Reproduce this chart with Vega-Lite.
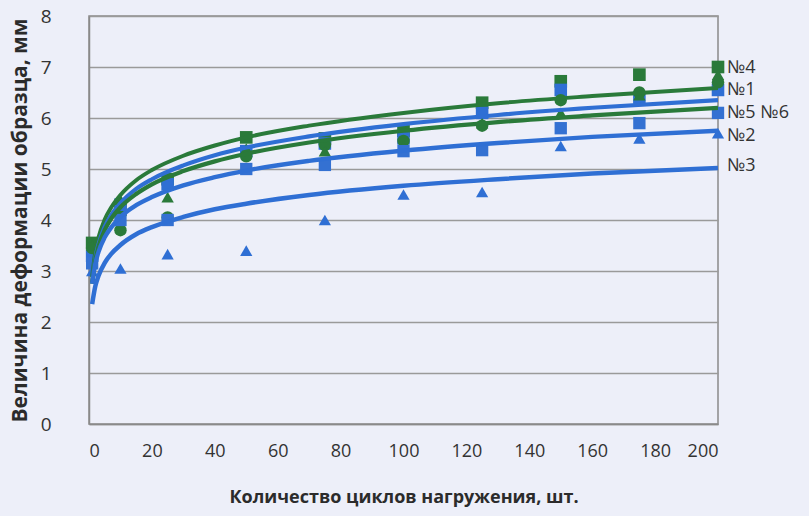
{
  "$schema": "https://vega.github.io/schema/vega-lite/v6.json",
  "width": 629,
  "height": 408,
  "autosize": {"type": "none"},
  "padding": {"left": 89, "top": 16, "right": 91, "bottom": 92},
  "background": "#edeff9",
  "config": {
    "view": {"stroke": "#8a8a8a", "strokeWidth": 1.5},
    "font": "Open Sans"
  },
  "datasets": {
    "curves": [
      {"c": "A", "x": 1, "y": 2.88}, {"c": "A", "x": 2, "y": 3.37}, {"c": "A", "x": 3, "y": 3.65}, {"c": "A", "x": 5, "y": 4.01}, {"c": "A", "x": 7, "y": 4.24}, {"c": "A", "x": 10, "y": 4.49}, {"c": "A", "x": 15, "y": 4.78}, {"c": "A", "x": 20, "y": 4.98}, {"c": "A", "x": 30, "y": 5.26}, {"c": "A", "x": 40, "y": 5.46}, {"c": "A", "x": 50, "y": 5.62}, {"c": "A", "x": 70, "y": 5.85}, {"c": "A", "x": 100, "y": 6.10}, {"c": "A", "x": 130, "y": 6.29}, {"c": "A", "x": 160, "y": 6.43}, {"c": "A", "x": 200, "y": 6.59},
      {"c": "B", "x": 1, "y": 2.78}, {"c": "B", "x": 2, "y": 3.25}, {"c": "B", "x": 3, "y": 3.52}, {"c": "B", "x": 5, "y": 3.87}, {"c": "B", "x": 7, "y": 4.09}, {"c": "B", "x": 10, "y": 4.33}, {"c": "B", "x": 15, "y": 4.61}, {"c": "B", "x": 20, "y": 4.80}, {"c": "B", "x": 30, "y": 5.07}, {"c": "B", "x": 40, "y": 5.27}, {"c": "B", "x": 50, "y": 5.42}, {"c": "B", "x": 70, "y": 5.64}, {"c": "B", "x": 100, "y": 5.88}, {"c": "B", "x": 130, "y": 6.06}, {"c": "B", "x": 160, "y": 6.20}, {"c": "B", "x": 200, "y": 6.35},
      {"c": "C", "x": 1, "y": 2.75}, {"c": "C", "x": 2, "y": 3.20}, {"c": "C", "x": 3, "y": 3.47}, {"c": "C", "x": 5, "y": 3.80}, {"c": "C", "x": 7, "y": 4.02}, {"c": "C", "x": 10, "y": 4.25}, {"c": "C", "x": 15, "y": 4.51}, {"c": "C", "x": 20, "y": 4.70}, {"c": "C", "x": 30, "y": 4.96}, {"c": "C", "x": 40, "y": 5.15}, {"c": "C", "x": 50, "y": 5.30}, {"c": "C", "x": 70, "y": 5.52}, {"c": "C", "x": 100, "y": 5.75}, {"c": "C", "x": 130, "y": 5.92}, {"c": "C", "x": 160, "y": 6.05}, {"c": "C", "x": 200, "y": 6.20},
      {"c": "D", "x": 1, "y": 2.75}, {"c": "D", "x": 2, "y": 3.14}, {"c": "D", "x": 3, "y": 3.37}, {"c": "D", "x": 5, "y": 3.66}, {"c": "D", "x": 7, "y": 3.85}, {"c": "D", "x": 10, "y": 4.06}, {"c": "D", "x": 15, "y": 4.29}, {"c": "D", "x": 20, "y": 4.45}, {"c": "D", "x": 30, "y": 4.68}, {"c": "D", "x": 40, "y": 4.84}, {"c": "D", "x": 50, "y": 4.97}, {"c": "D", "x": 70, "y": 5.16}, {"c": "D", "x": 100, "y": 5.36}, {"c": "D", "x": 130, "y": 5.51}, {"c": "D", "x": 160, "y": 5.63}, {"c": "D", "x": 200, "y": 5.75},
      {"c": "E", "x": 1, "y": 2.35}, {"c": "E", "x": 2, "y": 2.70}, {"c": "E", "x": 3, "y": 2.90}, {"c": "E", "x": 5, "y": 3.16}, {"c": "E", "x": 7, "y": 3.33}, {"c": "E", "x": 10, "y": 3.51}, {"c": "E", "x": 15, "y": 3.72}, {"c": "E", "x": 20, "y": 3.86}, {"c": "E", "x": 30, "y": 4.06}, {"c": "E", "x": 40, "y": 4.21}, {"c": "E", "x": 50, "y": 4.32}, {"c": "E", "x": 70, "y": 4.49}, {"c": "E", "x": 100, "y": 4.67}, {"c": "E", "x": 130, "y": 4.80}, {"c": "E", "x": 160, "y": 4.91}, {"c": "E", "x": 200, "y": 5.02}
    ],
    "points": [
      {"s": "№4", "x": 1, "y": 3.55}, {"s": "№4", "x": 10, "y": 4.2}, {"s": "№4", "x": 25, "y": 4.8}, {"s": "№4", "x": 50, "y": 5.62}, {"s": "№4", "x": 75, "y": 5.6}, {"s": "№4", "x": 100, "y": 5.75}, {"s": "№4", "x": 125, "y": 6.3}, {"s": "№4", "x": 150, "y": 6.72}, {"s": "№4", "x": 175, "y": 6.85}, {"s": "№4", "x": 200, "y": 7.0},
      {"s": "№1", "x": 1, "y": 3.3}, {"s": "№1", "x": 10, "y": 4.3}, {"s": "№1", "x": 25, "y": 4.7}, {"s": "№1", "x": 50, "y": 5.35}, {"s": "№1", "x": 75, "y": 5.5}, {"s": "№1", "x": 100, "y": 5.6}, {"s": "№1", "x": 125, "y": 6.1}, {"s": "№1", "x": 150, "y": 6.55}, {"s": "№1", "x": 175, "y": 6.4}, {"s": "№1", "x": 200, "y": 6.55},
      {"s": "№5", "x": 1, "y": 3.45}, {"s": "№5", "x": 10, "y": 3.8}, {"s": "№5", "x": 25, "y": 4.05}, {"s": "№5", "x": 50, "y": 5.25}, {"s": "№5", "x": 75, "y": 5.47}, {"s": "№5", "x": 100, "y": 5.55}, {"s": "№5", "x": 125, "y": 5.85}, {"s": "№5", "x": 150, "y": 6.35}, {"s": "№5", "x": 175, "y": 6.5}, {"s": "№5", "x": 200, "y": 6.7},
      {"s": "№6", "x": 1, "y": 3.5}, {"s": "№6", "x": 10, "y": 4.4}, {"s": "№6", "x": 25, "y": 4.45}, {"s": "№6", "x": 50, "y": 5.4}, {"s": "№6", "x": 75, "y": 5.35}, {"s": "№6", "x": 100, "y": 5.45}, {"s": "№6", "x": 125, "y": 5.9}, {"s": "№6", "x": 150, "y": 6.1}, {"s": "№6", "x": 175, "y": 6.45}, {"s": "№6", "x": 200, "y": 6.85},
      {"s": "№2", "x": 1, "y": 3.15}, {"s": "№2", "x": 10, "y": 4.0}, {"s": "№2", "x": 25, "y": 4.0}, {"s": "№2", "x": 50, "y": 5.0}, {"s": "№2", "x": 75, "y": 5.08}, {"s": "№2", "x": 100, "y": 5.35}, {"s": "№2", "x": 125, "y": 5.37}, {"s": "№2", "x": 150, "y": 5.8}, {"s": "№2", "x": 175, "y": 5.9}, {"s": "№2", "x": 200, "y": 6.1},
      {"s": "№3", "x": 1, "y": 3.0}, {"s": "№3", "x": 10, "y": 3.05}, {"s": "№3", "x": 25, "y": 3.33}, {"s": "№3", "x": 50, "y": 3.4}, {"s": "№3", "x": 75, "y": 4.0}, {"s": "№3", "x": 100, "y": 4.5}, {"s": "№3", "x": 125, "y": 4.55}, {"s": "№3", "x": 150, "y": 5.45}, {"s": "№3", "x": 175, "y": 5.6}, {"s": "№3", "x": 200, "y": 5.7}
    ],
    "labels": [
      {"t": "№4", "x": 200, "y": 6.98},
      {"t": "№1", "x": 200, "y": 6.55},
      {"t": "№5 №6", "x": 200, "y": 6.1},
      {"t": "№2", "x": 200, "y": 5.65},
      {"t": "№3", "x": 200, "y": 5.05}
    ]
  },
  "encoding": {
    "x": {
      "field": "x", "type": "quantitative",
      "scale": {"domain": [0, 200], "nice": false},
      "axis": {
        "values": [0, 20, 40, 60, 80, 100, 120, 140, 160, 180, 200],
        "grid": false, "ticks": false, "domainColor": "#8a8a8a", "domainWidth": 1.5,
        "labelFontSize": 18, "labelColor": "#333333", "labelPadding": 18,
        "title": "Количество циклов нагружения, шт.",
        "titleFontSize": 18, "titleFontWeight": "bold", "titleColor": "#2b2b2b", "titlePadding": 28
      }
    },
    "y": {
      "field": "y", "type": "quantitative",
      "scale": {"domain": [0, 8], "nice": false},
      "axis": {
        "values": [0, 1, 2, 3, 4, 5, 6, 7, 8],
        "grid": true, "gridColor": "#9a9a9a", "gridWidth": 1.5,
        "ticks": false, "domainColor": "#8a8a8a", "domainWidth": 1.5,
        "labelFontSize": 19, "labelColor": "#333333", "labelPadding": 38,
        "title": "Величина деформации образца, мм",
        "titleFontSize": 21, "titleFontWeight": "bold", "titleColor": "#2b2b2b", "titlePadding": 10
      }
    }
  },
  "layer": [
    {
      "data": {"name": "points"},
      "mark": {"type": "point", "filled": true, "opacity": 1},
      "encoding": {
        "shape": {"field": "s", "type": "nominal", "legend": null,
          "scale": {"domain": ["№4", "№1", "№5", "№6", "№2", "№3"], "range": ["square", "square", "circle", "triangle-up", "square", "triangle-up"]}},
        "size": {"field": "s", "type": "nominal", "legend": null,
          "scale": {"domain": ["№4", "№1", "№5", "№6", "№2", "№3"], "range": [160, 150, 170, 170, 160, 180]}},
        "color": {"field": "s", "type": "nominal", "legend": null,
          "scale": {"domain": ["№4", "№1", "№5", "№6", "№2", "№3"], "range": ["#2a7a3a", "#2f6fd4", "#2a7a3a", "#2a7a3a", "#3471d2", "#2f6fd4"]}}
      }
    },
    {
      "data": {"name": "curves"},
      "mark": {"type": "line", "interpolate": "monotone", "clip": true},
      "encoding": {
        "detail": {"field": "c"},
        "stroke": {"field": "c", "type": "nominal", "legend": null,
          "scale": {"domain": ["A", "B", "C", "D", "E"], "range": ["#2a7a3a", "#2f6fd4", "#2a7a3a", "#2f6fd4", "#2f6fd4"]}},
        "strokeWidth": {"field": "c", "type": "nominal", "legend": null,
          "scale": {"domain": ["A", "B", "C", "D", "E"], "range": [4, 4.5, 6, 4.5, 4.5]}}
      }
    },
    {
      "data": {"name": "labels"},
      "mark": {"type": "text", "align": "left", "baseline": "middle", "dx": 9, "fontSize": 18, "color": "#333333"},
      "encoding": {"text": {"field": "t"}}
    }
  ],
  "resolve": {"scale": {"color": "independent", "stroke": "independent", "size": "independent"}}
}
